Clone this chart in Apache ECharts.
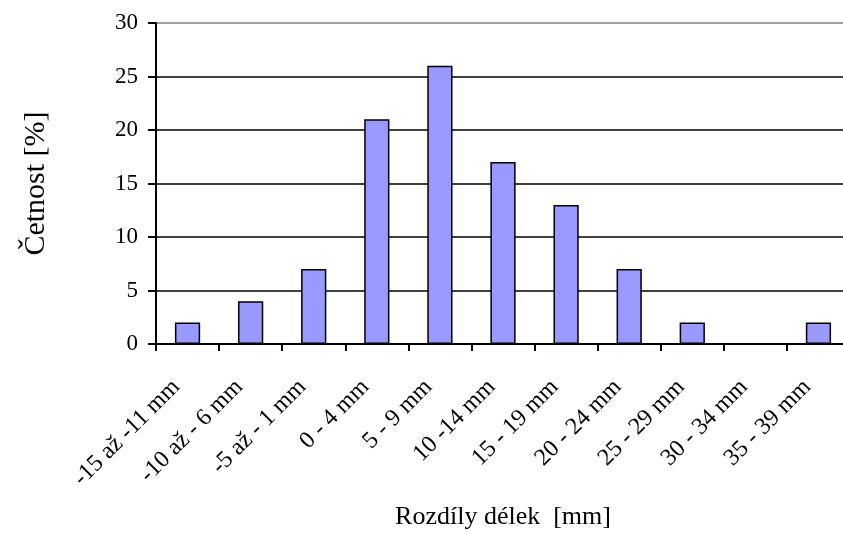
<!DOCTYPE html>
<html>
<head>
<meta charset="utf-8">
<script src="https://cdn.jsdelivr.net/npm/echarts@6/dist/echarts.min.js"></script>
<style>
  html, body { margin: 0; padding: 0; background: #fff; overflow: hidden; }
  #chart { width: 843px; height: 534px; }
</style>
</head>
<body>
<div id="chart"></div>
<script>
// Histogram of length differences (relative frequency in percent)
const categories = ['-15 až -11 mm', '-10 až - 6 mm', '-5 až - 1 mm', '0 - 4 mm', '5 - 9 mm',
  '10 -14 mm', '15 - 19 mm', '20 - 24 mm', '25 - 29 mm', '30 - 34 mm', '35 - 39 mm'];
const frequency = [2, 4, 7, 21, 26, 17, 13, 7, 2, 0, 2];
const yMin = 0, yMax = 30, yStep = 5;

const font = '"Liberation Serif", "Times New Roman", serif';
const chart = echarts.init(document.getElementById('chart'));
chart.setOption({
  animation: false,
  backgroundColor: '#fff',
  grid: { left: 156, width: 694, top: 23, bottom: 190, containLabel: false, outerBoundsMode: 'none' },
  xAxis: {
    type: 'category',
    data: categories,
    name: 'Rozdíly délek  [mm]',
    nameLocation: 'middle',
    nameGap: 160,
    nameTextStyle: { fontFamily: font, fontSize: 26, color: '#000' },
    axisLine: { lineStyle: { color: '#000', width: 2 } },
    axisTick: { show: true, length: 7, lineStyle: { color: '#000', width: 2 } },
    axisLabel: {
      rotate: 45, interval: 0, margin: 28,
      padding: [0, 16, 0, 0],
      fontFamily: font, fontSize: 24, color: '#000'
    }
  },
  yAxis: {
    type: 'value',
    min: yMin, max: yMax, interval: yStep,
    name: 'Četnost [%]',
    nameLocation: 'middle',
    nameGap: 105,
    nameRotate: 90,
    nameTextStyle: { fontFamily: font, fontSize: 30, color: '#000' },
    axisLine: { show: true, lineStyle: { color: '#000', width: 2 } },
    axisTick: { show: true, length: 8, lineStyle: { color: '#000', width: 2 } },
    axisLabel: { margin: 18, fontFamily: font, fontSize: 23, color: '#000' },
    splitLine: {
      show: true,
      lineStyle: { color: ['#000', '#000', '#000', '#000', '#000', '#000', '#808080'], width: 1.5 }
    }
  },
  series: [{
    type: 'bar',
    data: frequency,
    barWidth: '40%',
    itemStyle: { color: '#9999FF', borderColor: '#000', borderWidth: 1.5 }
  }]
});
</script>
</body>
</html>
